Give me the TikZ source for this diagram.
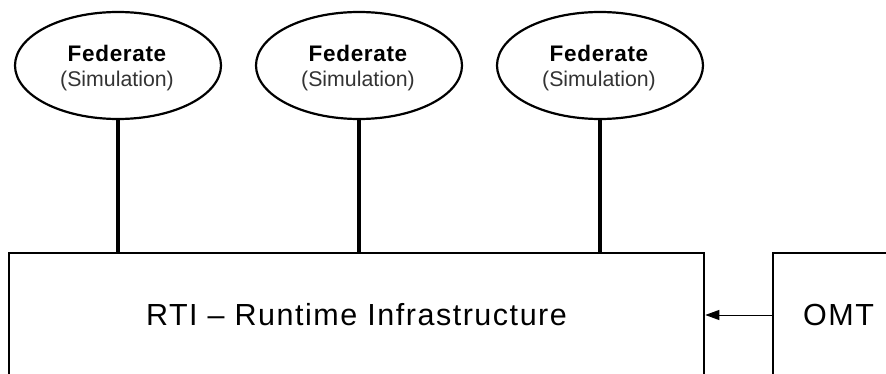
\documentclass[tikz,border=0pt]{standalone}
\usepackage{fontspec}
\setmainfont{Liberation Sans}
\newfontfamily\titlefont[LetterSpace=3]{Liberation Sans}
\newfontfamily\boxfont[LetterSpace=5]{Liberation Sans}
\usetikzlibrary{shapes.geometric,arrows.meta}
\tikzset{
  federate/.style={ellipse, draw=black, line width=2.2pt, inner sep=0pt,
    minimum width=206pt, minimum height=107pt},
  fedtitle/.style={anchor=base, inner sep=0pt,
    font=\titlefont\bfseries\fontsize{22.5}{26}\selectfont},
  fedsub/.style={anchor=base, inner sep=0pt, text=black!80,
    font=\fontsize{21.3}{24}\selectfont},
  block/.style={rectangle, draw=black, line width=2.6pt, inner sep=0pt,
    minimum height=124pt, font=\boxfont\fontsize{30.5}{34}\selectfont},
  link/.style={line width=3.2pt},
  feed/.style={line width=1pt, -{Triangle[length=14pt,width=10pt]}}
}
\begin{document}
\begin{tikzpicture}[x=1pt,y=-1pt]
  \clip (0,0) rectangle (886,374);
  \fill[white] (0,0) rectangle (886,374);

  % federates
  \node[federate] (f1) at (118,65.5) {};
  \node[federate] (f2) at (359,65.5) {};
  \node[federate] (f3) at (600,65.5) {};
  \node[fedtitle] (t1) at (117,61.5) {Federate};
  \node[fedtitle] (t2) at (358,61.5) {Federate};
  \node[fedtitle] (t3) at (599,61.5) {Federate};
  \node[fedsub] (s1) at (117,87) {(Simulation)};
  \node[fedsub] (s2) at (358,87) {(Simulation)};
  \node[fedsub] (s3) at (599,87) {(Simulation)};

  % runtime infrastructure and object model template
  \node[block, minimum width=695pt] (rti) at (356.5,315) {RTI – Runtime Infrastructure};
  \node[block, minimum width=131pt] (omt) at (838.5,315) {OMT};

  % connections
  \draw[link] (f1.south) -- (f1.south |- rti.north);
  \draw[link] (f2.south) -- (f2.south |- rti.north);
  \draw[link] (f3.south) -- (f3.south |- rti.north);
  \draw[feed] (omt.west) -- (rti.east);
\end{tikzpicture}
\end{document}
